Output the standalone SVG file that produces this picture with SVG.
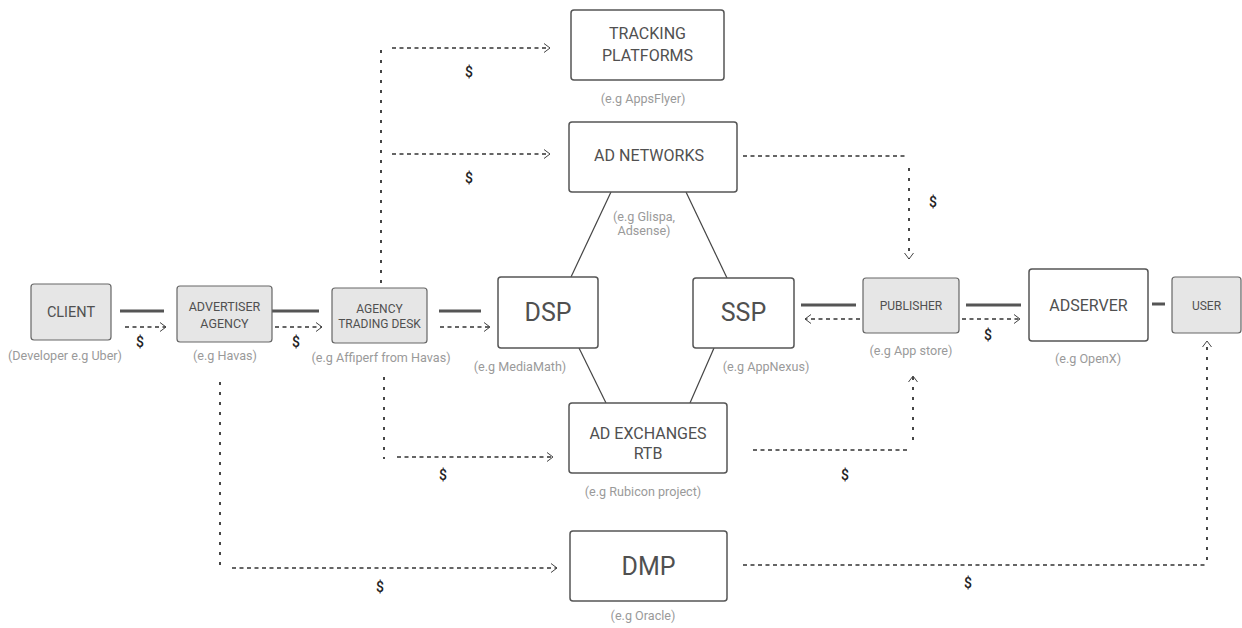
<svg xmlns="http://www.w3.org/2000/svg" width="1242" height="628" viewBox="0 0 1242 628">
  <style>
    .box { fill: #ffffff; stroke: #555555; stroke-width: 1.5; }
    .gbox { fill: #e6e6e6; stroke: #666666; stroke-width: 1.2; }
    .lbl { font-family: Roboto, "Liberation Sans", sans-serif; fill: #505050; text-anchor: middle; }
    .sub { font-family: Roboto, "Liberation Sans", sans-serif; fill: #9a9a9a; font-size: 12.6px; text-anchor: middle; }
    .usd { font-family: Roboto, "Liberation Sans", sans-serif; fill: #222222; font-size: 14px; font-weight: 500; text-anchor: middle; }
    .thick { stroke: #555555; stroke-width: 3; fill: none; }
    .thin { stroke: #444444; stroke-width: 1.2; fill: none; }
    .dh { stroke: #333333; stroke-width: 1.4; stroke-dasharray: 4 3.5; fill: none; }
    .dv { stroke: #333333; stroke-width: 1.8; stroke-dasharray: 3 7; fill: none; }
  </style>
  <defs>
    <marker id="chev" markerUnits="userSpaceOnUse" markerWidth="12" markerHeight="12" refX="8" refY="6" orient="auto">
      <path d="M2,1.5 L8,6 L2,10.5" fill="none" stroke="#444444" stroke-width="1"/>
    </marker>
  </defs>

  <rect width="1242" height="628" fill="#ffffff"/>

  <!-- connectors -->
  <g id="connectors">
    <!-- solid links along the main chain -->
    <line class="thick" x1="120" y1="311" x2="164" y2="311"/>
    <line class="thick" x1="272" y1="311" x2="319" y2="311"/>
    <line class="thick" x1="439" y1="311" x2="481" y2="311"/>
    <line class="thick" x1="801" y1="305" x2="856" y2="305"/>
    <line class="thick" x1="966" y1="305" x2="1021" y2="305"/>
    <line class="thick" x1="1152" y1="304" x2="1165" y2="304"/>

    <!-- payment flows under the chain -->
    <line class="dh" x1="125" y1="327" x2="166" y2="327" marker-end="url(#chev)"/>
    <line class="dh" x1="275" y1="327" x2="322" y2="327" marker-end="url(#chev)"/>
    <line class="dh" x1="440" y1="327" x2="490" y2="327" marker-end="url(#chev)"/>
    <line class="dh" x1="860" y1="319" x2="805" y2="319" marker-end="url(#chev)"/>
    <line class="dh" x1="962" y1="319" x2="1020" y2="319" marker-end="url(#chev)"/>

    <!-- diamond around DSP / SSP -->
    <line class="thin" x1="611" y1="192" x2="571" y2="277"/>
    <line class="thin" x1="686" y1="192" x2="727" y2="278"/>
    <line class="thin" x1="579" y1="348" x2="606" y2="403"/>
    <line class="thin" x1="714" y1="348" x2="690" y2="403"/>

    <!-- trading desk up to tracking platforms and ad networks -->
    <line class="dv" x1="381" y1="283" x2="381" y2="46"/>
    <line class="dh" x1="392" y1="48" x2="550" y2="48" marker-end="url(#chev)"/>
    <line class="dh" x1="392" y1="154" x2="550" y2="154" marker-end="url(#chev)"/>

    <!-- trading desk down to ad exchanges -->
    <line class="dv" x1="384" y1="377" x2="384" y2="459"/>
    <line class="dh" x1="397" y1="457" x2="553" y2="457" marker-end="url(#chev)"/>

    <!-- ad networks to publisher -->
    <line class="dh" x1="743" y1="156" x2="908" y2="156"/>
    <line class="dv" x1="909" y1="168" x2="909" y2="259" marker-end="url(#chev)"/>

    <!-- ad exchanges to publisher -->
    <line class="dh" x1="753" y1="450" x2="910" y2="450"/>
    <line class="dv" x1="913" y1="440" x2="913" y2="376" marker-end="url(#chev)"/>

    <!-- advertiser agency to DMP -->
    <line class="dv" x1="220" y1="382" x2="220" y2="568"/>
    <line class="dh" x1="232" y1="568" x2="557" y2="568" marker-end="url(#chev)"/>

    <!-- DMP to user -->
    <line class="dh" x1="743" y1="565" x2="1205" y2="565"/>
    <line class="dv" x1="1207" y1="560" x2="1207" y2="341" marker-end="url(#chev)"/>

    <!-- payment markers -->
    <text class="usd" x="140" y="347">$</text>
    <text class="usd" x="296" y="347">$</text>
    <text class="usd" x="469" y="77">$</text>
    <text class="usd" x="469" y="183">$</text>
    <text class="usd" x="443" y="480">$</text>
    <text class="usd" x="933" y="207">$</text>
    <text class="usd" x="845" y="480">$</text>
    <text class="usd" x="988" y="340">$</text>
    <text class="usd" x="380" y="592">$</text>
    <text class="usd" x="968" y="588">$</text>
  </g>

  <!-- nodes -->
  <g id="client">
    <rect class="gbox" x="31" y="284" width="80" height="56" rx="3"/>
    <text class="lbl" x="71" y="317" font-size="14.5">CLIENT</text>
    <text class="sub" x="65" y="360">(Developer e.g Uber)</text>
  </g>

  <g id="advertiser-agency">
    <rect class="gbox" x="177" y="286" width="95" height="56" rx="3"/>
    <text class="lbl" x="224.5" y="311" font-size="12.5">ADVERTISER</text>
    <text class="lbl" x="224.5" y="328" font-size="12.5">AGENCY</text>
    <text class="sub" x="225" y="360">(e.g Havas)</text>
  </g>

  <g id="agency-trading-desk">
    <rect class="gbox" x="332" y="288" width="95" height="55" rx="3"/>
    <text class="lbl" x="379.5" y="313" font-size="12">AGENCY</text>
    <text class="lbl" x="379.5" y="328" font-size="12">TRADING DESK</text>
    <text class="sub" x="381" y="362">(e.g Af&#xFB01;perf from Havas)</text>
  </g>

  <g id="tracking-platforms">
    <rect class="box" x="571" y="10" width="153" height="70" rx="3"/>
    <text class="lbl" x="647.5" y="39" font-size="16">TRACKING</text>
    <text class="lbl" x="647.5" y="61" font-size="16">PLATFORMS</text>
    <text class="sub" x="643" y="103">(e.g AppsFlyer)</text>
  </g>

  <g id="ad-networks">
    <rect class="box" x="569" y="122" width="168" height="70" rx="3"/>
    <text class="lbl" x="649" y="161" font-size="16">AD NETWORKS</text>
    <text class="sub" x="644" y="221">(e.g Glispa,</text>
    <text class="sub" x="644" y="235">Adsense)</text>
  </g>

  <g id="dsp">
    <rect class="box" x="498" y="277" width="100" height="71" rx="3"/>
    <text class="lbl" x="548" y="321" font-size="25">DSP</text>
    <text class="sub" x="520" y="371">(e.g MediaMath)</text>
  </g>

  <g id="ssp">
    <rect class="box" x="693" y="278" width="101" height="70" rx="3"/>
    <text class="lbl" x="743.5" y="321" font-size="25">SSP</text>
    <text class="sub" x="766" y="371">(e.g AppNexus)</text>
  </g>

  <g id="ad-exchanges">
    <rect class="box" x="569" y="403" width="158" height="70" rx="3"/>
    <text class="lbl" x="648" y="439" font-size="16">AD EXCHANGES</text>
    <text class="lbl" x="648" y="459" font-size="16">RTB</text>
    <text class="sub" x="643" y="496">(e.g Rubicon project)</text>
  </g>

  <g id="publisher">
    <rect class="gbox" x="863" y="278" width="96" height="55" rx="3"/>
    <text class="lbl" x="911" y="310" font-size="12">PUBLISHER</text>
    <text class="sub" x="911" y="355">(e.g App store)</text>
  </g>

  <g id="adserver">
    <rect class="box" x="1029" y="269" width="119" height="72" rx="3"/>
    <text class="lbl" x="1088.5" y="311" font-size="16">ADSERVER</text>
    <text class="sub" x="1088" y="363">(e.g OpenX)</text>
  </g>

  <g id="user">
    <rect class="gbox" x="1172" y="277" width="69" height="56" rx="3"/>
    <text class="lbl" x="1206.5" y="309.5" font-size="12">USER</text>
  </g>

  <g id="dmp">
    <rect class="box" x="570" y="531" width="157" height="70" rx="3"/>
    <text class="lbl" x="648.5" y="575" font-size="25">DMP</text>
    <text class="sub" x="643" y="620">(e.g Oracle)</text>
  </g>
</svg>
